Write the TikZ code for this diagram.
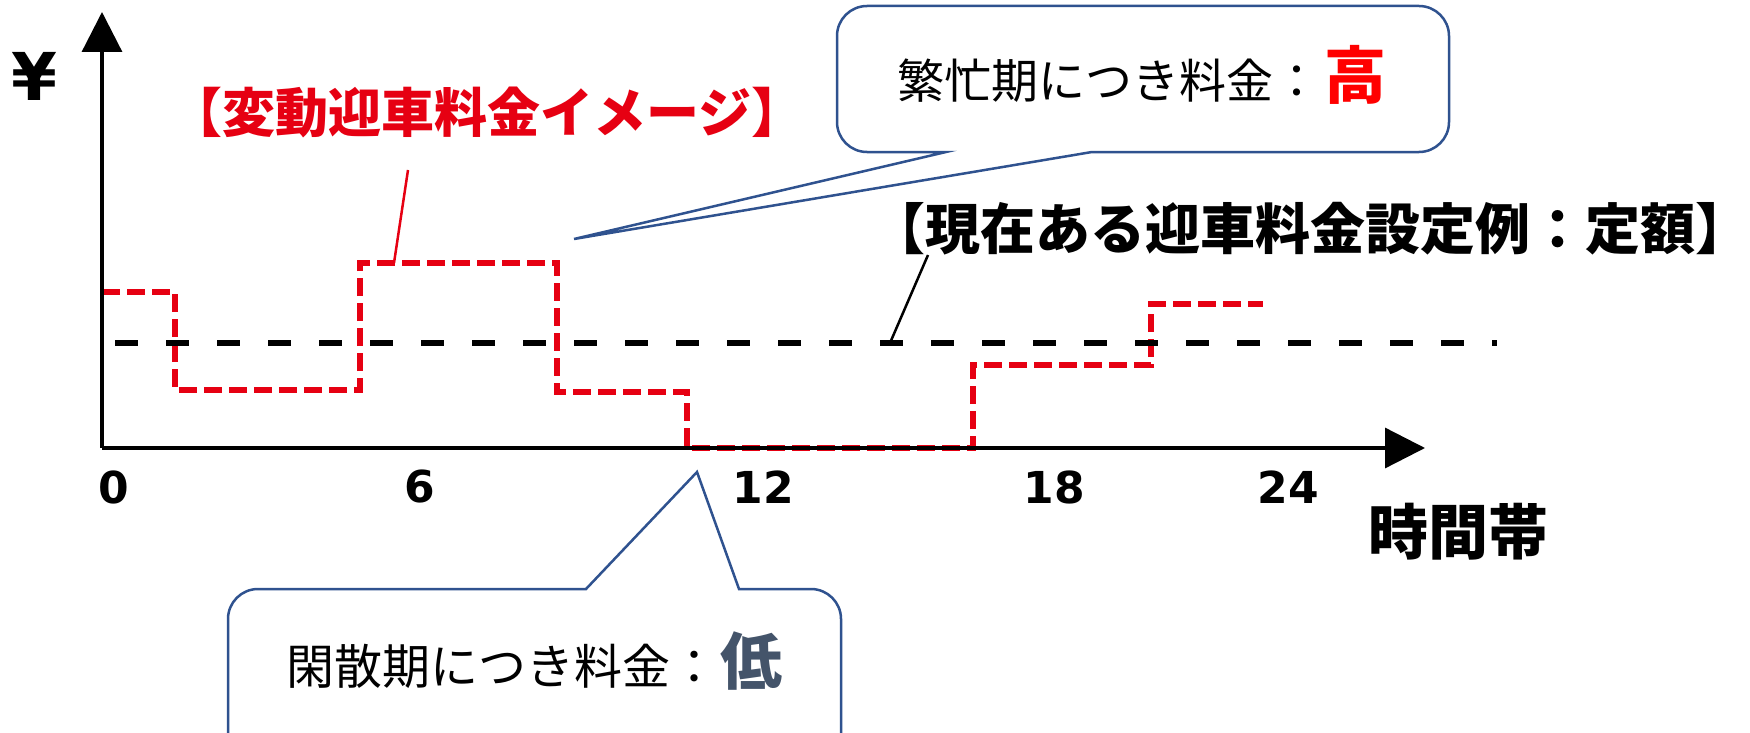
\documentclass[tikz,border=0pt]{standalone}
\usepackage{fontspec}
\newfontfamily\jpfont{Noto Sans CJK JP}
\newfontfamily\numfont{DejaVu Sans}
\usetikzlibrary{arrows.meta}

\definecolor{varred}{RGB}{230,0,18}
\definecolor{calloutblue}{RGB}{47,82,143}
\definecolor{lowgray}{RGB}{68,84,106}

\begin{document}
\begin{tikzpicture}[x=1pt,y=-1pt,
    axis/.style={line width=3.3pt,-{Triangle[length=40pt,width=40pt]}},
    fixedfee/.style={line width=6pt,dash pattern=on 23pt off 28pt},
    varfee/.style={varred,line width=6pt,dash pattern=on 18pt off 7pt},
    leader/.style={line width=2.5pt},
    callout/.style={calloutblue,line width=2.5pt,fill=white},
    tick/.style={inner sep=0pt,font=\numfont\bfseries\fontsize{44}{50}\selectfont},
    title/.style={inner sep=0pt,font=\jpfont\bfseries\fontsize{53}{60}\selectfont},
    bubbletext/.style={inner sep=0pt,anchor=base west}]

    \useasboundingbox (0,0) rectangle (1750,733);

    % Define the points
    \coordinate (O) at (102,448);
    \coordinate (ytop) at (102,12);
    \coordinate (xend) at (1425,448);
    \coordinate (busytip) at (574,239);
    \coordinate (busybase1) at (946,152);
    \coordinate (busybase2) at (1092,152);
    \coordinate (lowtip) at (697,472);
    \coordinate (lowbase1) at (586,589);
    \coordinate (lowbase2) at (739,589);

    % Variable fee (red steps)
    \draw[varfee] (102,292) -- (175,292) -- (175,390) -- (360,390) -- (360,263)
        -- (557,263) -- (557,392) -- (687,392) -- (687,448) -- (973,448)
        -- (973,365) -- (1151,365) -- (1151,304) -- (1263,304);

    % Fixed fee
    \draw[fixedfee] (115,343) -- (1497,343);

    % Axes
    \draw[axis] (O) -- (ytop);
    \draw[axis] (O) -- (xend);
    \node[inner sep=0pt,font=\numfont\bfseries\fontsize{66}{70}\selectfont] (yen) at (34,76) {¥};
    \foreach \t/\x in {0/114,6/420,12/763,18/1054,24/1288}
        \node[tick] (t\t) at (\x,487) {\t};
    \node[title,font=\jpfont\bfseries\fontsize{60}{66}\selectfont] (xlabel) at (1458,532) {時間帯};

    % Labels of the two lines
    \node[title,text=varred] (vartitle) at (487,112) {【変動迎車料金イメージ】};
    \coordinate (varfrom) at (408,170);
    \coordinate (varto) at (394,263);
    \draw[leader,varred] (varfrom) -- (varto);

    \node[title,font=\jpfont\bfseries\fontsize{55}{62}\selectfont] (fixtitle) at (1310,229) {【現在ある迎車料金設定例：定額】};
    \coordinate (fixfrom) at (928,255);
    \coordinate (fixto) at (890,343);
    \draw[leader] (fixfrom) -- (fixto);

    % Callouts
    \draw[callout] (busytip) -- (busybase2) [rounded corners=30pt] -- (1449,152)
        -- (1449,6) -- (837,6) -- (837,152) [sharp corners] -- (busybase1) -- cycle;
    \node[bubbletext,font=\jpfont\fontsize{47}{50}\selectfont] (busytext) at (897,99)
        {繁忙期につき料金：\hspace{4pt}{\bfseries\color{red}\fontsize{62}{70}\selectfont 高}};

    \draw[callout] (lowtip) -- (lowbase2) [rounded corners=30pt] -- (841,589)
        -- (841,780) -- (228,780) -- (228,589) [sharp corners] -- (lowbase1) -- cycle;
    \node[bubbletext,font=\jpfont\fontsize{48}{50}\selectfont] (lowtext) at (286,684)
        {閑散期につき料金：\hspace{2pt}{\bfseries\color{lowgray}\fontsize{62}{70}\selectfont 低}};

\end{tikzpicture}
\end{document}
